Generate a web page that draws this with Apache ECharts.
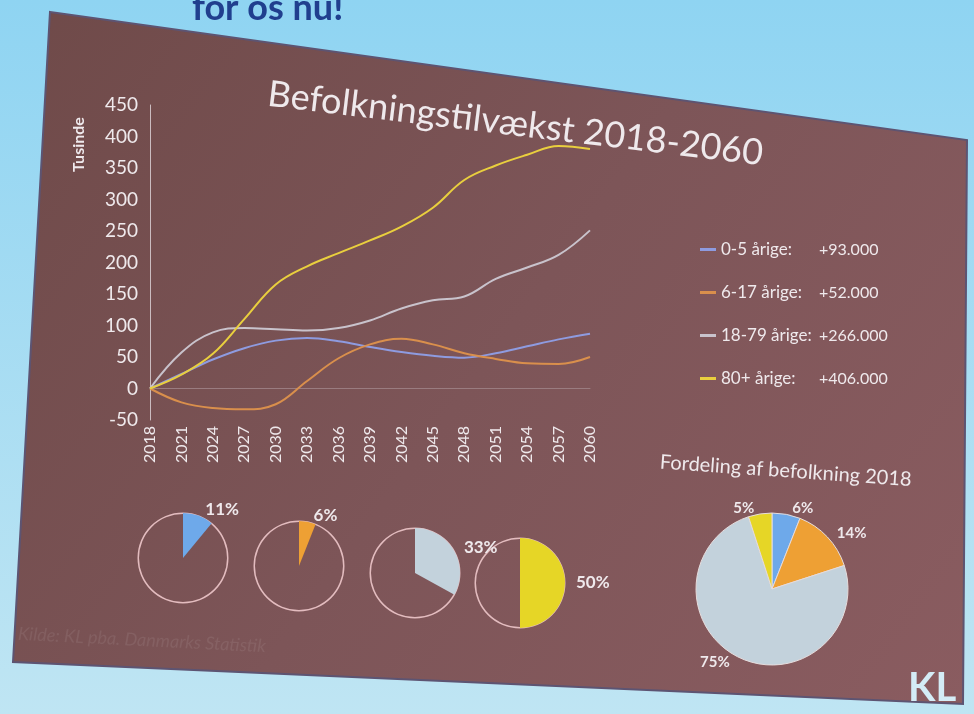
<!DOCTYPE html>
<html>
<head>
<meta charset="utf-8">
<script src="https://cdn.jsdelivr.net/npm/echarts@6/dist/echarts.min.js"></script>
<style>
  html, body { margin: 0; padding: 0; background: #a8dcf1; }
  #chart { width: 974px; height: 714px; }
</style>
</head>
<body>
<div id="chart"></div>
<script>
// years on the x axis (every 3rd year)
const years = ['2018', '2021', '2024', '2027', '2030', '2033', '2036', '2039', '2042', '2045', '2048', '2051', '2054', '2057', '2060'];

// growth since 2018, in thousands
const age0to5 = [0, 23, 46, 64, 76, 80, 75, 66, 58, 52, 49, 56, 67, 78, 87];
const age6to17 = [0, -22, -31, -33, -25, 12, 48, 70, 79, 70, 56, 47, 40, 39, 50];
const age18to79 = [0, 57, 89, 96, 94, 92, 96, 108, 127, 140, 146, 174, 192, 212, 251];
const age80plus = [0, 22, 55, 110, 165, 194, 215, 235, 257, 287, 331, 354, 371, 385, 380];

const groupNames = ['0-5 årige', '6-17 årige', '18-79 årige', '80+ årige'];
const groupGrowth = ['+93.000', '+52.000', '+266.000', '+406.000'];
const growthShare = [11, 6, 33, 50];   // share of growth 2018-2060, %
const share2018 = [6, 14, 75, 5];      // population 2018, %

const lineColors = ['#8e9be0', '#d98f4c', '#c9c3cc', '#e9cf3e'];
const pieColors = ['#6ea9ea', '#eea034', '#c3d2dc', '#e6d626'];
const textColor = '#efe9ec';
const font = 'Lato, "Open Sans", sans-serif';
const narrow = '"Liberation Sans Narrow", Lato, sans-serif';

const lineData = [age0to5, age6to17, age18to79, age80plus];

const chart = echarts.init(document.getElementById('chart'));

const series = groupNames.map((name, i) => ({
  name: name,
  type: 'line',
  data: lineData[i],
  smooth: 0.4,
  symbol: 'none',
  lineStyle: { width: 2, color: lineColors[i] },
  itemStyle: { color: lineColors[i] },
  z: 5
}));

// small "share of growth" pies
const smallCenters = [[183, 558], [299, 566], [415, 573], [520, 583]];
growthShare.forEach((v, i) => {
  series.push({
    type: 'pie',
    center: smallCenters[i],
    radius: [44, 45.5],
    silent: true,
    label: { show: false },
    itemStyle: { color: '#e3bcbf' },
    data: [{ value: 1, name: 'ring' + i }],
    z: 3
  });
  series.push({
    type: 'pie',
    center: smallCenters[i],
    radius: 45,
    startAngle: 90,
    clockwise: true,
    silent: true,
    labelLine: { show: false, length: 6, length2: 0 },
    label: {
      show: true,
      position: 'outside',
      formatter: '{c}%',
      color: textColor,
      fontFamily: narrow,
      fontWeight: 'bold',
      fontSize: 17
    },
    data: [
      { value: v, name: groupNames[i] + ' vækst', itemStyle: { color: pieColors[i] } },
      { value: 100 - v, name: 'rest' + i, itemStyle: { color: 'rgba(0,0,0,0)' }, label: { show: false } }
    ],
    z: 4
  });
});

// big pie: population 2018
series.push({
  type: 'pie',
  center: [772, 589],
  radius: 76,
  startAngle: 90,
  clockwise: true,
  silent: true,
  itemStyle: { borderColor: '#e6dcdc', borderWidth: 1 },
  labelLine: { show: false, length: 6, length2: 0 },
  label: {
    show: true,
    position: 'outside',
    formatter: '{c}%',
    color: textColor,
    fontFamily: narrow,
    fontWeight: 'bold',
    fontSize: 15
  },
  data: share2018.map((v, i) => ({ value: v, name: groupNames[i] + ' 2018', itemStyle: { color: pieColors[i] } })),
  z: 4
});

const option = {
  backgroundColor: new echarts.graphic.LinearGradient(0, 0, 0, 1, [
    { offset: 0, color: '#8fd4f2' },
    { offset: 1, color: '#bfe5f3' }
  ]),
  animation: false,
  graphic: [
    {
      type: 'polygon',
      z: -10,
      shape: { points: [[50, 12], [967, 140], [963, 704], [13, 662]] },
      style: {
        fill: new echarts.graphic.LinearGradient(0, 0, 1, 1, [
          { offset: 0, color: '#6f4a49' },
          { offset: 0.5, color: '#7d5558' },
          { offset: 1, color: '#8a5c60' }
        ]),
        stroke: '#5d5472',
        lineWidth: 2
      }
    },
    {
      type: 'text',
      left: 192, top: -10,
      style: { text: 'for os nu!', fill: '#203f8e', font: 'bold 36px ' + font }
    },
    {
      type: 'text',
      x: 268, y: 94,
      rotation: -0.12,
      style: { text: 'Befolkningstilvækst 2018-2060', fill: textColor, font: '36px ' + font, verticalAlign: 'middle' }
    },
    {
      type: 'text',
      x: 79, y: 172,
      rotation: Math.PI / 2,
      style: { text: 'Tusinde', fill: textColor, font: 'bold 16px ' + font, verticalAlign: 'middle' }
    },
    {
      type: 'text',
      x: 660, y: 462,
      rotation: -0.07,
      style: { text: 'Fordeling af befolkning 2018', fill: textColor, font: '20px ' + font, verticalAlign: 'middle' }
    },
    {
      type: 'text',
      x: 18, y: 634,
      rotation: -0.05,
      style: { text: 'Kilde: KL pba. Danmarks Statistik', fill: 'rgba(255,255,255,0.08)', font: 'italic 18px ' + font, verticalAlign: 'middle' }
    },
    {
      type: 'text',
      x: 908, y: 688,
      style: { text: 'KL', fill: '#d4ecf6', font: 'bold 40px ' + narrow, verticalAlign: 'middle' }
    }
  ],
  legend: {
    orient: 'vertical',
    left: 695,
    top: 236,
    itemGap: 26,
    itemWidth: 16,
    itemHeight: 3,
    icon: 'rect',
    data: groupNames,
    formatter: name => {
      const i = groupNames.indexOf(name);
      return '{a|' + name + ':}{b|' + groupGrowth[i] + '}';
    },
    textStyle: {
      color: textColor,
      rich: {
        a: { width: 98, fontSize: 17, fontFamily: narrow, color: textColor },
        b: { fontSize: 16, fontFamily: narrow, color: textColor }
      }
    }
  },
  grid: { left: 150, right: 384, top: 105, bottom: 294, containLabel: false },
  xAxis: {
    type: 'category',
    data: years,
    boundaryGap: false,
    axisLine: { onZero: true, lineStyle: { color: '#9a7c80', width: 1 } },
    axisTick: { show: false },
    axisLabel: { interval: 0, rotate: 90, color: textColor, fontSize: 16, fontFamily: font, margin: 6 }
  },
  yAxis: {
    type: 'value',
    min: -50,
    max: 450,
    interval: 50,
    splitLine: { show: false },
    axisLine: { show: true, lineStyle: { color: '#cbbcc0' } },
    axisTick: { show: false },
    axisLabel: { color: textColor, fontSize: 19, fontFamily: font, margin: 12 }
  },
  series: series
};

chart.setOption(option);
</script>
</body>
</html>
